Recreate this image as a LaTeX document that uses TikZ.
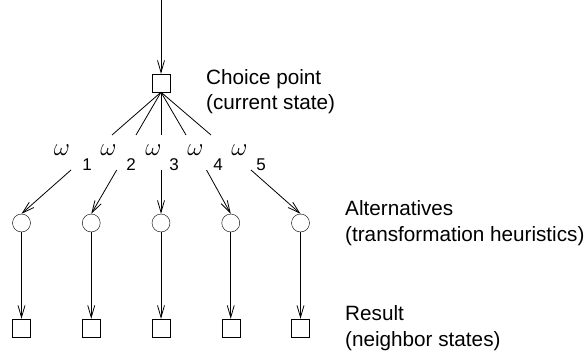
\documentclass[tikz,border=0pt]{standalone}
\usepackage{fontspec}
\setmainfont{Liberation Sans}
\usetikzlibrary{arrows.meta}
\tikzset{
  state/.style={draw, rectangle, minimum width=18pt, minimum height=18pt, inner sep=0pt},
  alt/.style={draw, circle, minimum size=18pt, inner sep=0pt},
  conn/.style={line width=0.8pt},
  arr/.style={conn, -{Straight Barb[length=12pt,width=7pt,line width=0.8pt]}},
  lbl/.style={inner sep=0pt, anchor=base west, font=\fontsize{20.7}{26}\selectfont},
  wlbl/.style={inner sep=0pt, font=\fontsize{29}{29}\selectfont},
  idx/.style={inner sep=0pt, anchor=base, font=\fontsize{17}{17}\selectfont},
}
\begin{document}
\begin{tikzpicture}[x=1pt, y=-1pt]
  \useasboundingbox (0,0) rectangle (587,353);

  % choice point
  \coordinate (in) at (161,0);
  \node[state] (cp) at (161,83) {};
  \draw[arr] (in) -- (cp.north);

  % branches out of the choice point
  \foreach \i/\x in {1/112, 2/136, 3/161, 4/186, 5/211} {
    \coordinate (b\i) at (\x,135);
    \draw[conn] (cp.south) -- (b\i);
  }

  % weight labels
  \foreach \i/\wx/\sx in {1/62/87, 2/108.5/131, 3/153.5/174, 4/195.5/218, 5/239.5/261} {
    \node[wlbl] (w\i) at (\wx,150.5) {$\omega$};
    \node[idx] (s\i) at (\sx,170.5) {\i};
  }

  % alternatives and resulting states
  \foreach \i/\ax/\cx in {1/71/21.5, 2/116.7/91.25, 3/161/161, 4/206.5/230.75, 5/251/300.5} {
    \coordinate (a\i) at (\ax,170);
    \node[alt] (c\i) at (\cx,223) {};
    \node[state] (r\i) at (\cx,328) {};
    \draw[arr] (a\i) -- (c\i.north);
    \draw[arr] (c\i.south) -- (r\i.north);
  }

  % captions
  \node[lbl] (t1) at (206,84.5) {Choice point};
  \node[lbl] (t2) at (206,110) {(current state)};
  \node[lbl] (t3) at (345,215.5) {Alternatives};
  \node[lbl] (t4) at (345,241) {(transformation heuristics)};
  \node[lbl] (t5) at (345,320) {Result};
  \node[lbl] (t6) at (345,346) {(neighbor states)};
\end{tikzpicture}
\end{document}
